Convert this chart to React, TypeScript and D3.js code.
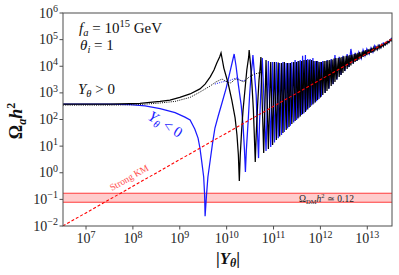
import React, { useRef, useEffect } from 'react';
import * as d3 from 'd3';

// curves in decades: [log10|Y_theta|, log10(Omega_a h^2)]
const yPositive: [number, number][] = [
  [6.51, 2.58], [7.51, 2.58], [8.15, 2.61], [8.58, 2.68], [8.79, 2.73], [9.0, 2.83], [9.22, 2.96], [9.43, 3.15],
  [9.54, 3.33], [9.65, 3.6], [9.73, 3.86], [9.79, 4.12], [9.85, 4.35], [9.88, 4.5],
  [9.94, 3.93], [10.03, 3.37], [10.11, 2.73], [10.18, 2.06], [10.22, 1.42], [10.25, 0.67], [10.27, -0.31],
  [10.29, 0.67], [10.32, 1.61], [10.35, 2.36], [10.39, 3.11], [10.43, 3.86], [10.47, 4.35], [10.48, 4.61],
  [10.51, 4.05], [10.54, 3.3], [10.57, 2.36], [10.59, 1.42], [10.61, 0.4], [10.63, 1.42], [10.66, 2.54],
  [10.69, 3.48], [10.72, 4.05], [10.73, 4.35],
  [10.79, 0.74], [10.84, 4.23], [10.89, 0.89], [10.94, 4.16], [10.98, 1.04], [11.02, 4.16], [11.06, 1.23],
  [11.1, 4.14], [11.13, 1.36], [11.17, 4.12], [11.2, 1.49], [11.23, 4.16], [11.27, 1.61], [11.3, 4.12],
  [11.33, 1.72], [11.36, 4.12], [11.39, 1.83], [11.43, 4.16], [11.46, 1.94], [11.49, 4.16], [11.52, 2.04],
  [11.54, 4.2], [11.57, 2.11], [11.6, 4.2], [11.62, 2.21], [11.65, 4.23], [11.68, 2.28], [11.7, 4.23],
  [11.73, 2.38], [11.76, 4.23], [11.78, 2.47], [11.81, 4.23], [11.84, 2.56], [11.86, 4.2], [11.89, 2.64],
  [11.92, 4.2], [11.94, 2.73], [11.97, 4.16], [12.0, 2.83], [12.02, 4.16], [12.05, 2.92], [12.08, 4.2],
  [12.1, 3.0], [12.12, 4.2], [12.14, 3.07], [12.16, 4.22], [12.18, 3.16], [12.2, 4.23], [12.23, 3.26],
  [12.25, 4.25], [12.27, 3.33], [12.29, 4.29], [12.31, 3.41], [12.33, 4.31], [12.35, 3.5], [12.38, 4.31],
  [12.4, 3.6], [12.42, 4.33], [12.44, 3.67], [12.46, 4.35], [12.48, 3.75], [12.5, 4.37], [12.52, 3.82],
  [12.55, 4.39], [12.57, 3.9], [12.59, 4.4], [12.61, 3.97], [12.63, 4.42], [12.65, 4.03], [12.67, 4.44],
  [12.7, 4.1], [12.72, 4.46], [12.74, 4.16], [12.76, 4.48], [12.78, 4.2], [12.8, 4.5], [12.82, 4.25],
  [12.84, 4.53], [12.87, 4.29], [12.89, 4.55], [12.91, 4.35], [12.93, 4.59], [12.95, 4.39], [12.97, 4.61],
  [12.99, 4.42], [13.02, 4.63], [13.04, 4.46], [13.06, 4.65], [13.08, 4.5], [13.1, 4.69], [13.12, 4.53],
  [13.14, 4.7], [13.16, 4.59], [13.19, 4.72], [13.21, 4.63], [13.23, 4.76], [13.25, 4.67], [13.27, 4.78],
  [13.29, 4.7], [13.31, 4.82], [13.34, 4.74], [13.36, 4.85], [13.38, 4.8], [13.4, 4.89], [13.42, 4.84],
  [13.44, 4.93], [13.46, 4.89], [13.48, 4.99], [13.51, 4.95], [13.53, 5.06],
];

const yNegative: [number, number][] = [
  [6.51, 2.58], [7.51, 2.58], [7.94, 2.56], [8.26, 2.51], [8.58, 2.41], [8.9, 2.26], [9.11, 2.09], [9.22, 1.98],
  [9.32, 1.64], [9.39, 1.3], [9.43, 0.93], [9.47, 0.4], [9.51, -0.16], [9.53, -0.84], [9.54, -1.63],
  [9.57, -0.84], [9.6, -0.16], [9.65, 0.48], [9.7, 1.12], [9.75, 1.68], [9.82, 2.13], [9.9, 2.62],
  [9.99, 3.18], [10.07, 3.78], [10.12, 4.16], [10.16, 4.46],
  [10.2, 4.01], [10.25, 3.3], [10.31, 2.54], [10.35, 1.79], [10.38, 0.85], [10.4, 0.03], [10.42, 0.85],
  [10.46, 1.98], [10.49, 2.92], [10.52, 3.67], [10.55, 4.16], [10.56, 4.42],
  [10.59, 3.78], [10.63, 2.92], [10.65, 1.79], [10.68, 0.55], [10.7, 1.79], [10.73, 3.11], [10.76, 4.31],
  [10.84, 0.82], [10.89, 4.2], [10.94, 0.97], [10.98, 4.16], [11.02, 1.14], [11.06, 4.16], [11.1, 1.3],
  [11.13, 4.12], [11.17, 1.42], [11.2, 4.16], [11.23, 1.53], [11.27, 4.12], [11.3, 1.66], [11.33, 4.12],
  [11.36, 1.77], [11.39, 4.16], [11.43, 1.89], [11.46, 4.23], [11.49, 1.98], [11.52, 4.2], [11.54, 2.08],
  [11.57, 4.23], [11.6, 2.17], [11.62, 4.39], [11.65, 2.24], [11.68, 4.42], [11.7, 2.34], [11.73, 4.27],
  [11.76, 2.43], [11.78, 4.27], [11.81, 2.53], [11.84, 4.31], [11.86, 2.6], [11.89, 4.2], [11.92, 2.69],
  [11.94, 4.2], [11.97, 2.77], [12.0, 4.16], [12.02, 2.86], [12.05, 4.2], [12.1, 3.0], [12.14, 4.23],
  [12.18, 3.16], [12.23, 4.27], [12.27, 3.33], [12.31, 4.42], [12.35, 3.5], [12.4, 4.35], [12.44, 3.67],
  [12.48, 4.39], [12.52, 3.82], [12.57, 4.46], [12.61, 3.97], [12.65, 4.65], [12.7, 4.1], [12.74, 4.5],
  [12.78, 4.2], [12.82, 4.53], [12.87, 4.29], [12.91, 4.61], [12.95, 4.39], [12.99, 4.65], [13.04, 4.46],
  [13.08, 4.69], [13.12, 4.53], [13.16, 4.78], [13.21, 4.63], [13.25, 4.8], [13.29, 4.7], [13.34, 4.87],
  [13.38, 4.8], [13.42, 4.93], [13.46, 4.89], [13.51, 5.04], [13.53, 5.06],
];

// dotted (averaged) curves
const yPositiveAvg: [number, number][] = [
  [6.51, 2.54], [7.51, 2.54], [8.15, 2.56], [8.58, 2.62], [8.9, 2.68], [9.22, 2.83], [9.43, 3.03], [9.65, 3.26],
  [9.77, 3.41], [9.9, 3.52], [10.01, 3.41], [10.09, 3.37], [10.18, 3.52], [10.28, 3.48], [10.37, 3.41],
  [10.48, 3.6], [10.6, 3.71], [10.76, 3.78],
];
const yNegativeAvg: [number, number][] = [
  [9.75, 3.33], [9.9, 3.41], [10.05, 3.45], [10.14, 3.52], [10.22, 3.56], [10.31, 3.45], [10.41, 3.48],
];

const strongKmY = [3.2e6, 3.4e13];
const strongKmOmega = [0.01, 1.06e5];
const dmBand = [0.078, 0.17];

const xTickExp = [7, 8, 9, 10, 11, 12, 13];
const yTickExp = [-2, -1, 0, 1, 2, 3, 4, 5, 6];

type Part = { t: string; size?: number; dy?: number; italic?: boolean };

function mathText(sel: d3.Selection<SVGTextElement, unknown, null, undefined>, parts: Part[]) {
  parts.forEach(p => {
    const ts = sel.append('tspan').text(p.t);
    if (p.size) ts.attr('font-size', p.size);
    if (p.dy) ts.attr('dy', p.dy);
    if (p.italic) ts.attr('font-style', 'italic');
  });
  return sel;
}

const Chart = () => {
  const ref = useRef<SVGSVGElement | null>(null);

  useEffect(() => {
    const svg = d3.select(ref.current);
    svg.selectAll('*').remove();
    const font = '"Liberation Serif", "DejaVu Serif", serif';
    svg.attr('font-family', font);

    const x = d3.scaleLog().domain([10 ** 6.509, 10 ** 13.527]).range([63, 392]);
    const y = d3.scaleLog().domain([1e-2, 1e6]).range([226, 13]);
    const [x0, x1] = x.range();
    const [y0, y1] = y.range();

    svg.append('defs').append('clipPath').attr('id', 'plotArea')
      .append('rect').attr('x', x0).attr('y', y1).attr('width', x1 - x0).attr('height', y0 - y1);

    const plot = svg.append('g').attr('clip-path', 'url(#plotArea)');

    plot.append('rect')
      .attr('x', x0).attr('width', x1 - x0)
      .attr('y', y(dmBand[1])).attr('height', y(dmBand[0]) - y(dmBand[1]))
      .attr('fill', '#ffcccc');
    dmBand.forEach(v => {
      plot.append('line')
        .attr('x1', x0).attr('x2', x1).attr('y1', y(v)).attr('y2', y(v))
        .attr('stroke', '#ff3b3b').attr('stroke-width', 1);
    });

    const line = d3.line<[number, number]>()
      .x(d => x(10 ** d[0]))
      .y(d => y(10 ** d[1]));

    plot.append('path').attr('d', line(yNegative))
      .attr('fill', 'none').attr('stroke', '#1a1aff').attr('stroke-width', 1.25);
    plot.append('path').attr('d', line(yPositive))
      .attr('fill', 'none').attr('stroke', '#000').attr('stroke-width', 1.25);
    plot.append('path').attr('d', line(yNegativeAvg))
      .attr('fill', 'none').attr('stroke', '#1a1aff').attr('stroke-width', 1).attr('stroke-dasharray', '1,1.2');
    plot.append('path').attr('d', line(yPositiveAvg))
      .attr('fill', 'none').attr('stroke', '#000').attr('stroke-width', 1).attr('stroke-dasharray', '1,1.2');

    const km = d3.line<number>().x(d => x(d)).y((d, i) => y(strongKmOmega[i]));
    plot.append('path').attr('d', km(strongKmY))
      .attr('fill', 'none').attr('stroke', '#ff0000').attr('stroke-width', 1.1).attr('stroke-dasharray', '3,2');

    // frame
    svg.append('rect')
      .attr('x', x0).attr('y', y1).attr('width', x1 - x0).attr('height', y0 - y1)
      .attr('fill', 'none').attr('stroke', '#4d4d4d').attr('stroke-width', 1);

    const tickColor = '#262626';
    xTickExp.forEach(e => {
      const px = x(10 ** e);
      svg.append('line').attr('x1', px).attr('x2', px).attr('y1', y0).attr('y2', y0 + 3.5)
        .attr('stroke', '#4d4d4d').attr('stroke-width', 1);
      const t = svg.append('text').attr('x', px).attr('y', 243).attr('text-anchor', 'middle')
        .attr('font-size', 14).attr('fill', tickColor);
      mathText(t, [{ t: '10' }, { t: String(e), size: 10, dy: -5.5 }]);
    });
    yTickExp.forEach(e => {
      const py = y(10 ** e);
      svg.append('line').attr('x1', x0 - 3.5).attr('x2', x0).attr('y1', py).attr('y2', py)
        .attr('stroke', '#4d4d4d').attr('stroke-width', 1);
      const t = svg.append('text').attr('x', 58).attr('y', py + 4.5).attr('text-anchor', 'end')
        .attr('font-size', 14).attr('fill', tickColor);
      mathText(t, [{ t: '10' }, { t: e < 0 ? '\u2212' + Math.abs(e) : String(e), size: 10, dy: -5.5 }]);
    });

    // axis titles
    const yl = svg.append('text').attr('transform', 'translate(22,121) rotate(-90)')
      .attr('text-anchor', 'middle').attr('font-size', 18).attr('font-weight', 'bold').attr('fill', '#111');
    mathText(yl, [{ t: '\u03a9' }, { t: 'a', size: 12, dy: 4, italic: true }, { t: 'h', dy: -4, italic: true }, { t: '2', size: 12, dy: -7 }]);

    const xl = svg.append('text').attr('x', 228).attr('y', 264).attr('text-anchor', 'middle')
      .attr('font-size', 17).attr('font-weight', 'bold').attr('fill', '#111');
    mathText(xl, [{ t: '|' }, { t: 'Y', italic: true }, { t: '\u03b8', size: 12, dy: 3, italic: true }, { t: '|', dy: -3 }]);

    // annotations
    const a1 = svg.append('text').attr('x', 79).attr('y', 33).attr('font-size', 15).attr('fill', '#111');
    mathText(a1, [{ t: 'f', italic: true }, { t: 'a', size: 10.5, dy: 3, italic: true }, { t: ' = 10', dy: -3 }, { t: '15', size: 10.5, dy: -6 }, { t: ' GeV', dy: 6 }]);

    const a2 = svg.append('text').attr('x', 80).attr('y', 50).attr('font-size', 15).attr('fill', '#111');
    mathText(a2, [{ t: '\u03b8', italic: true }, { t: 'i', size: 10.5, dy: 3, italic: true }, { t: ' = 1', dy: -3 }]);

    const a3 = svg.append('text').attr('x', 78).attr('y', 94).attr('font-size', 15).attr('fill', '#111');
    mathText(a3, [{ t: 'Y', italic: true }, { t: '\u03b8', size: 10.5, dy: 3, italic: true }, { t: ' > 0', dy: -3 }]);

    const a4 = svg.append('text').attr('transform', 'translate(147,119) rotate(31)')
      .attr('font-size', 15).attr('fill', '#1a1aff');
    mathText(a4, [{ t: 'Y', italic: true }, { t: '\u03b8', size: 10.5, dy: 3, italic: true }, { t: ' < 0', dy: -3 }]);

    svg.append('text').attr('transform', 'translate(112,191) rotate(-29.6)')
      .attr('font-size', 9.5).attr('fill', '#ff4d4d').text('Strong KM');

    const bl = svg.append('text').attr('x', 299).attr('y', 202).attr('font-size', 9.5).attr('fill', '#222');
    mathText(bl, [{ t: '\u03a9' }, { t: 'DM', size: 6.5, dy: 2 }, { t: 'h', dy: -2, italic: true }, { t: '2', size: 6.5, dy: -4 }, { t: ' \u2243 0.12', dy: 4 }]);
  }, []);

  return <svg ref={ref} width={399} height={275} style={{ position: 'absolute', left: 0, top: 0 }} />;
};

export default function App() {
  return <Chart />;
}
